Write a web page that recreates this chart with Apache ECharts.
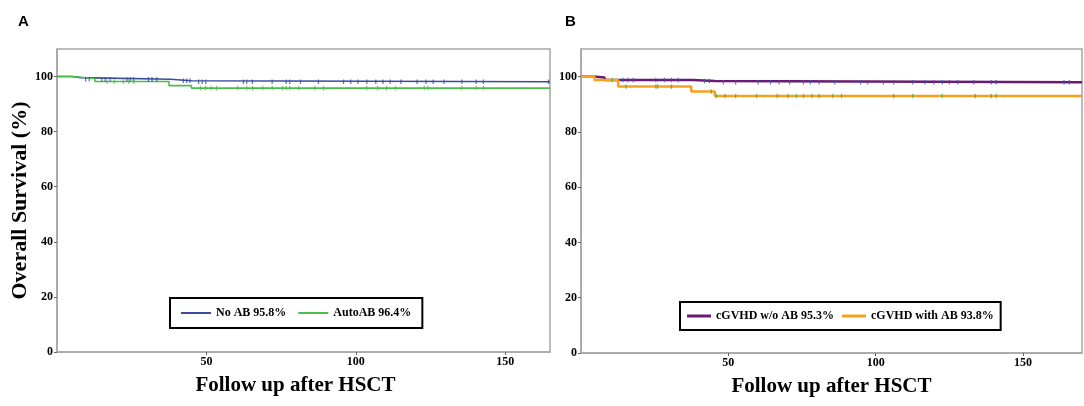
<!DOCTYPE html>
<html>
<head>
<meta charset="utf-8">
<script src="https://cdn.jsdelivr.net/npm/echarts@6/dist/echarts.min.js"></script>
<style>
  html, body { margin: 0; padding: 0; background: #fff; }
  #chart { width: 1084px; height: 406px; }
</style>
</head>
<body>
<div id="chart"></div>
<script>
// tick labels
var xTicks = [50, 100, 150];
var yTicks = [0, 20, 40, 60, 80, 100];

// panel A: step points (time, survival %)
var noAbTime = [0, 5, 8, 38, 45, 165];
var noAbSurv = [100, 99.6, 99.0, 98.5, 98.1, 98.1];
var autoAbTime = [0, 5, 12.7, 37.5, 45, 165];
var autoAbSurv = [100, 99.3, 98.2, 96.7, 95.8, 95.8];
// censored times
var noAbCensor = [9.6, 10.8, 15, 16.1, 17.8, 23.4, 24.5, 25.6, 30.6, 31.8, 33.4, 42.3, 43.4, 44.5,
    47.4, 48.6, 49.8, 62.4, 63.5, 65.4, 72, 76.7, 77.9, 81.5, 87.5, 95.9, 98.3, 100.7, 103.7,
    106.7, 109.1, 111.5, 115.1, 120.5, 123.5, 125.9, 129.5, 135.5, 140.3, 142.7, 164.5];
var autoAbCensor = [16.8, 19.2, 22.2, 24, 25.8, 48, 49.8, 51.6, 53.4, 60.5, 63.5, 65.4, 68.9, 72,
    75.5, 76.7, 77.9, 80.9, 86.3, 89.2, 103.7, 107.3, 110.3, 113.3, 122.9, 124.1, 135.5, 140.3, 142.7];

// panel B
var woAbTime = [0, 5.2, 8, 38, 45.4, 170];
var woAbSurv = [100, 99.7, 98.8, 98.4, 98.0, 98.0];
var withAbTime = [0, 4.6, 12.6, 37.4, 45.4, 170];
var withAbSurv = [100, 98.8, 96.4, 94.6, 93.0, 93.0];
var woAbCensor = [14.2, 15.9, 17.7, 25.4, 28.3, 30.7, 33, 41.9, 43.6, 48.3, 52.5, 60.1, 64.3, 67.2,
    70.8, 75.5, 77.8, 80.8, 86.1, 94.9, 97.3, 102.6, 106.1, 112.6, 116.7, 119.7, 122.6, 125, 127.9,
    133.3, 139.2, 140.9, 163.9, 165.7];
var withAbCensor = [10.6, 15.3, 25.4, 26, 30.7, 44.2, 46, 48.9, 52.5, 59.6, 66.6, 70.2, 73.1, 75.5,
    78.4, 80.8, 85.5, 88.4, 106.1, 112.6, 122.6, 133.8, 139.2, 140.9];

var serif = 'Liberation Serif';

function pairs(t, s) {
    var out = [];
    for (var i = 0; i < t.length; i++) out.push([t[i], s[i]]);
    return out;
}
// survival value at time t from the step data
function survAt(t, times, surv) {
    var v = surv[0];
    for (var i = 0; i < times.length; i++) {
        if (times[i] <= t) v = surv[i];
    }
    return v;
}
function censorPts(c, times, surv) {
    return c.map(function (t) { return [t, survAt(t, times, surv)]; });
}

function xAxisCfg(idx, max, namePad) {
    return {
        type: 'value', gridIndex: idx, min: 0, max: max,
        name: 'Follow up after HSCT', nameLocation: 'middle', nameGap: 23,
        nameTextStyle: { fontFamily: serif, fontWeight: 'bold', fontSize: 21, color: '#000', padding: namePad },
        axisLine: { show: true, lineStyle: { color: '#a6a6a6', width: 1.5 } },
        axisTick: { show: true, length: 3, customValues: xTicks, lineStyle: { color: '#666' } },
        axisLabel: { customValues: xTicks, margin: 4, fontFamily: serif, fontWeight: 'bold', fontSize: 12, color: '#000' },
        splitLine: { show: false }
    };
}
function yAxisCfg(idx, name) {
    return {
        type: 'value', gridIndex: idx, min: 0, max: 110,
        name: name, nameLocation: 'middle', nameGap: 26,
        nameTextStyle: { fontFamily: serif, fontWeight: 'bold', fontSize: 22, color: '#000' },
        axisLine: { show: true, lineStyle: { color: '#a6a6a6', width: 1.5 } },
        axisTick: { show: true, length: 3, customValues: yTicks, lineStyle: { color: '#666' } },
        axisLabel: { customValues: yTicks, margin: 4, fontFamily: serif, fontWeight: 'bold', fontSize: 12, color: '#000' },
        splitLine: { show: false }
    };
}
function stepSeries(name, idx, data, color, width) {
    return {
        name: name, type: 'line', step: 'end', xAxisIndex: idx, yAxisIndex: idx,
        data: data, showSymbol: false, symbol: 'none',
        lineStyle: { color: color, width: width }, itemStyle: { color: color },
        z: 2, silent: true
    };
}
function censorSeries(name, idx, data, color) {
    return {
        name: name, type: 'scatter', xAxisIndex: idx, yAxisIndex: idx,
        data: data, symbol: 'rect', symbolSize: [1.2, 4.5],
        itemStyle: { color: color }, z: 3, silent: true
    };
}
function legendCfg(names, left, top, iw, ih, gap, pad) {
    return {
        data: names, left: left, top: top, orient: 'horizontal',
        icon: 'rect', itemWidth: iw, itemHeight: ih, itemGap: gap, padding: pad,
        borderColor: '#000', borderWidth: 2, backgroundColor: '#fff',
        selectedMode: false,
        textStyle: { fontFamily: serif, fontWeight: 'bold', fontSize: 12, color: '#000' }
    };
}

var option = {
    animation: false,
    backgroundColor: '#fff',
    title: [
        { text: 'A', left: 13, top: 9, textStyle: { fontFamily: 'Liberation Sans', fontWeight: 'bold', fontSize: 15, color: '#000' } },
        { text: 'B', left: 560, top: 9, textStyle: { fontFamily: 'Liberation Sans', fontWeight: 'bold', fontSize: 15, color: '#000' } }
    ],
    grid: [
        { left: 57, top: 49, width: 493, height: 303, show: true, borderColor: '#a6a6a6', borderWidth: 1.5 },
        { left: 581, top: 49, width: 501, height: 304, show: true, borderColor: '#a6a6a6', borderWidth: 1.5 }
    ],
    xAxis: [xAxisCfg(0, 165, [0, 16, 0, 0]), xAxisCfg(1, 170, 0)],
    yAxis: [yAxisCfg(0, 'Overall Survival (%)'), yAxisCfg(1, '')],
    legend: [
        legendCfg(['No AB 95.8%', 'AutoAB 96.4%'], 170, 298, 30, 2, 12, [9, 11]),
        legendCfg(['cGVHD w/o AB 95.3%', 'cGVHD with AB 93.8%'], 680, 302, 24, 3, 8, [8, 7])
    ],
    series: [
        stepSeries('No AB 95.8%', 0, pairs(noAbTime, noAbSurv), '#3a4c9c', 1.6),
        stepSeries('AutoAB 96.4%', 0, pairs(autoAbTime, autoAbSurv), '#4cbc4a', 1.6),
        censorSeries('noab-c', 0, censorPts(noAbCensor, noAbTime, noAbSurv), '#3a4c9c'),
        censorSeries('autoab-c', 0, censorPts(autoAbCensor, autoAbTime, autoAbSurv), '#4cbc4a'),
        stepSeries('cGVHD w/o AB 95.3%', 1, pairs(woAbTime, woAbSurv), '#6a1a72', 2.5),
        stepSeries('cGVHD with AB 93.8%', 1, pairs(withAbTime, withAbSurv), '#f5a11e', 2.5),
        censorSeries('woab-c', 1, censorPts(woAbCensor, woAbTime, woAbSurv), '#3656b0'),
        censorSeries('withab-c', 1, censorPts(withAbCensor, withAbTime, withAbSurv), '#45ad45')
    ]
};

var myChart = echarts.init(document.getElementById('chart'));
myChart.setOption(option);
</script>
</body>
</html>
